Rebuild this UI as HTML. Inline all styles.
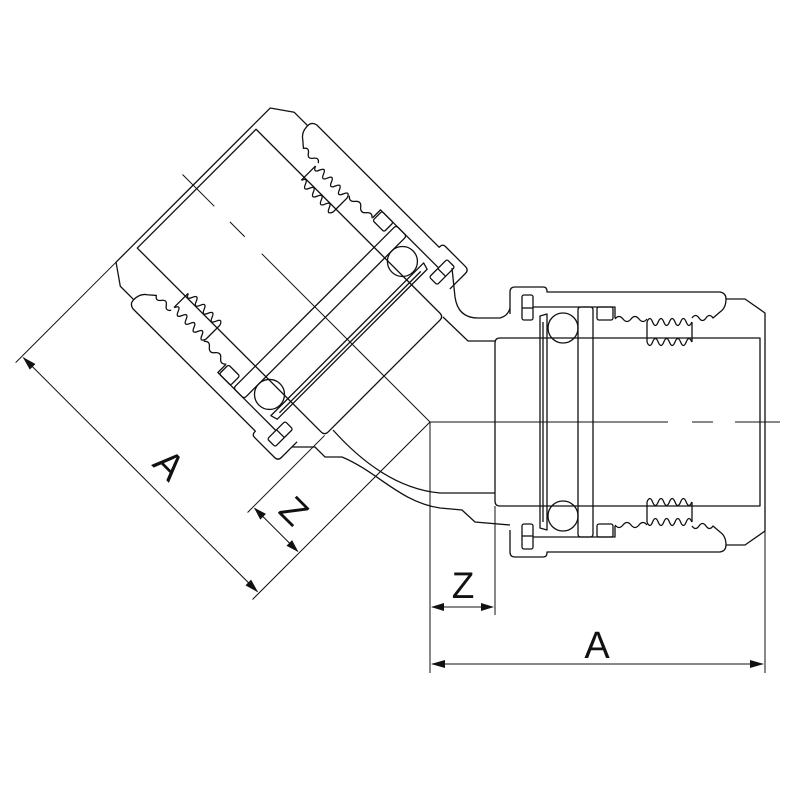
<!DOCTYPE html>
<html><head><meta charset="utf-8"><style>
html,body{margin:0;padding:0;background:#fff}
svg{display:block}
text{font-family:"Liberation Sans",sans-serif;fill:#111}
</style></head><body>
<svg width="800" height="800" viewBox="0 0 800 800" xmlns="http://www.w3.org/2000/svg">
<defs>
<g id="half" fill="none" stroke="#111" stroke-width="1.3" stroke-linejoin="round">
  <path d="M80,-108 L80,-130 Q80,-135 85,-135 L113,-135 Q117,-135 117,-131 L117,-130 L290,-130 Q296,-129 296,-123 L315,-123 L335,-109 L335,0"/>
  <rect x="92" y="-127" width="11" height="25" rx="2"/>
  <line x1="92" y1="-114" x2="103" y2="-114"/>
  <path d="M103,-115 L185,-115 L185,-104"/>
  <path d="M110,0 L110,-106 L117,-108 L117,0"/>
  <line x1="113" y1="-100" x2="113" y2="0"/>
  <circle cx="133" cy="-94" r="15"/>
  <path d="M148,0 L148,-112 Q148,-115 151,-115 L160,-115 Q163,-115 163,-112 L163,0"/>
  <rect x="167" y="-115" width="16" height="13" rx="2"/>
  <path d="M65,0 L65,-79 Q65,-84 70,-84 L330,-84 L330,0"/>
  <path d="M185,-103 q4,-5 8,0 t8,0 t8,0 t8,0"/>
  <path d="M262,-104 q3.5,-5 7,0 t7,0 t7,0 L290,-110 Q296,-114 296,-123"/>
  <path d="M217,-100 q2.8,-7 5.6,0 t5.6,0 t5.6,0 t5.6,0 t5.6,0 t5.6,0 t5.6,0 t5.6,0"/>
  <path d="M217,-80 q2.8,7 5.6,0 t5.6,0 t5.6,0 t5.6,0 t5.6,0 t5.6,0 t5.6,0 t5.6,0"/>
  <line x1="217" y1="-100" x2="217" y2="-80"/>
  <line x1="262" y1="-100" x2="262" y2="-80"/>
</g>
<g id="fit">
  <use href="#half"/>
  <use href="#half" transform="scale(1,-1)"/>
  <g stroke="#111" stroke-width="1">
    <line x1="0" y1="0" x2="238" y2="0"/>
    <line x1="262" y1="0" x2="283" y2="0"/>
    <line x1="305" y1="0" x2="350" y2="0"/>
    <line x1="0" y1="0" x2="0" y2="251"/>
    <line x1="65" y1="84" x2="65" y2="193"/>
    <line x1="335" y1="109" x2="335" y2="251"/>
    <line x1="2" y1="185" x2="63" y2="185"/>
    <line x1="2" y1="242" x2="333" y2="242"/>
  </g>
  <g fill="#111">
    <path d="M1,185 L14,181 L14,189 Z"/>
    <path d="M64,185 L51,181 L51,189 Z"/>
    <path d="M1,242 L15,238 L15,246 Z"/>
    <path d="M334,242 L320,238 L320,246 Z"/>
  </g>
</g>
</defs>
<use href="#fit" transform="translate(430,422)"/>
<use href="#fit" transform="translate(430,422) rotate(-135) scale(1,-1)"/>
<g fill="none" stroke="#111" stroke-width="1.3">
  <path d="M452,268 L455,297 Q458,318 478,318 L500,318 Q508,316 510,308"/>
  <path d="M443,317 L468,341 L495,341"/>
  <path d="M333,430 Q385,488 440,493 L495,493"/>
  <path d="M292,447 L315,447 L325,457 L342,457 C378,472 400,502 440,508 L462,510 L475,522 L510,525"/>
</g>
<text x="463" y="598" font-size="37" text-anchor="middle">Z</text>
<text x="597" y="658" font-size="38" text-anchor="middle">A</text>
<text x="0" y="0" font-size="38" text-anchor="middle" transform="translate(160,474) rotate(45)">A</text>
<text x="0" y="0" font-size="37" text-anchor="middle" transform="translate(285,520) rotate(45)">Z</text>
</svg>
</body></html>
